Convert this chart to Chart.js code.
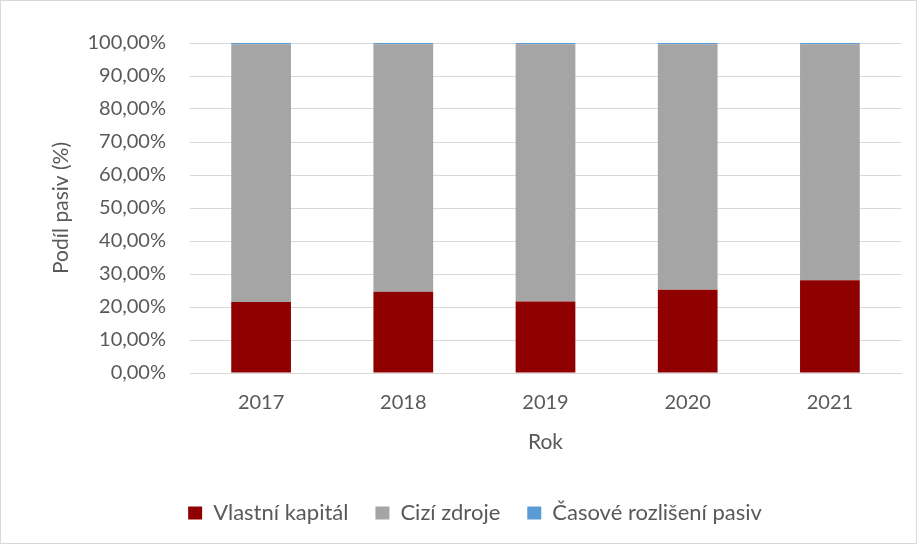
<!DOCTYPE html>
<html>
<head>
<meta charset="utf-8">
<script src="https://cdn.jsdelivr.net/npm/chart.js@4"></script>
<style>
  html, body { margin: 0; padding: 0; background: #fff; }
  #wrap { width: 917px; height: 544px; box-sizing: border-box; border: 1px solid #d9d9d9; position: relative; }
</style>
</head>
<body>
<div id="wrap"><canvas id="myChart"></canvas></div>
<script>
// years on the x axis
const years = ['2017', '2018', '2019', '2020', '2021'];
// share of total liabilities, in %
const vlastniKapital = [21.5, 24.6, 21.7, 25.2, 28.1];
const ciziZdroje = [78.1, 75.0, 77.9, 74.4, 71.5];
const casoveRozliseni = [0.4, 0.4, 0.4, 0.4, 0.4];
const seriesNames = ['Vlastní kapitál', 'Cizí zdroje', 'Časové rozlišení pasiv'];

const textColor = '#595959';
const fontFamily = 'Lato, "Open Sans", sans-serif';

function drawChart() {
    const config = {
        type: 'bar',
        data: {
            labels: years,
            datasets: [
                { label: seriesNames[0], data: vlastniKapital, backgroundColor: '#8f0000' },
                { label: seriesNames[1], data: ciziZdroje, backgroundColor: '#a5a5a5' },
                { label: seriesNames[2], data: casoveRozliseni, backgroundColor: '#5b9bd5' }
            ]
        },
        options: {
            responsive: false,
            animation: false,
            layout: {
                padding: { left: 48, right: 15, top: 42, bottom: 9 }
            },
            datasets: {
                bar: {
                    categoryPercentage: 1,
                    barPercentage: 0.42
                }
            },
            plugins: {
                tooltip: { enabled: false },
                legend: {
                    position: 'bottom',
                    labels: {
                        color: textColor,
                        font: { family: fontFamily, size: 22 },
                        boxWidth: 14,
                        boxHeight: 13,
                        padding: 27
                    }
                }
            },
            scales: {
                x: {
                    stacked: true,
                    grid: { display: false, drawTicks: false },
                    border: { color: '#d9d9d9' },
                    ticks: {
                        color: textColor,
                        font: { family: fontFamily, size: 20 },
                        padding: 18
                    },
                    title: {
                        display: true,
                        text: 'Rok',
                        color: textColor,
                        font: { family: fontFamily, size: 21 },
                        padding: { top: 4, bottom: 20 }
                    },
                    afterFit: function (scale) {
                        scale.height = 102;
                    }
                },
                y: {
                    stacked: true,
                    min: 0,
                    max: 100,
                    grid: { color: '#d9d9d9', drawTicks: false },
                    border: { display: false },
                    ticks: {
                        stepSize: 10,
                        color: textColor,
                        font: { family: fontFamily, size: 20 },
                        padding: 24,
                        callback: function (value) {
                            return value.toFixed(2).replace('.', ',') + '%';
                        }
                    },
                    title: {
                        display: true,
                        text: 'Podíl pasiv (%)',
                        color: textColor,
                        font: { family: fontFamily, size: 21 },
                        padding: 0
                    },
                    afterFit: function (scale) {
                        scale.width = 141;
                    }
                }
            }
        }
    };

    const canvas = document.getElementById('myChart');
    canvas.width = 915;
    canvas.height = 542;
    const myChart = new Chart(canvas, config);
}

drawChart();
</script>
</body>
</html>
